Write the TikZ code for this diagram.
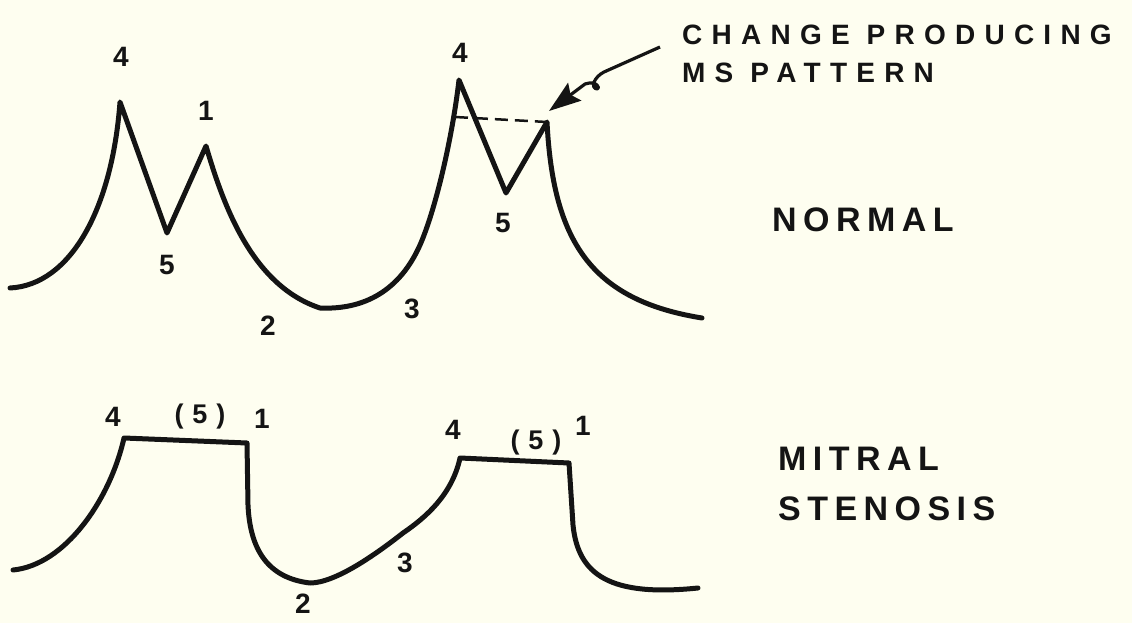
\documentclass[tikz,border=0pt]{standalone}
\usepackage{fontspec}
\usetikzlibrary{arrows.meta,positioning}
\newfontfamily\digitfont{Liberation Sans Bold}
\newfontfamily\capfont[LetterSpace=33]{Liberation Sans Bold}
\newfontfamily\sidefont[LetterSpace=19]{Liberation Sans Bold}
\definecolor{paper}{RGB}{254,254,240}
\definecolor{ink}{RGB}{20,20,20}
\tikzset{
  trace/.style={
    ink,
    line width=5pt,
    line cap=round,
    line join=round
  },
  lbl/.style={
    inner sep=0pt,
    ink,
    font=\digitfont\fontsize{28}{30}\selectfont
  },
  lblpar/.style={
    inner sep=0pt,
    ink,
    font=\capfont\fontsize{27}{30}\selectfont
  },
  note/.style={
    inner sep=0pt,
    anchor=north west,
    align=left,
    ink,
    font=\capfont\fontsize{28}{38}\selectfont
  },
  side/.style={
    inner sep=0pt,
    align=left,
    ink,
    font=\sidefont\fontsize{34}{50}\selectfont
  },
  dashline/.style={
    ink,
    line width=2.5pt,
    dash pattern=on 13pt off 7pt
  },
  pointer/.style={
    -{Stealth[length=32pt,width=22pt,inset=5pt]},
    ink,
    line width=3.2pt,
    line join=round
  }
}

\begin{document}
\begin{tikzpicture}[x=1pt,y=-1pt]
\fill[paper] (0,0) rectangle (1132,623);
\useasboundingbox (0,0) rectangle (1132,623);

\coordinate (p4a) at (120,102);
\coordinate (p5a) at (167,233);
\coordinate (p1a) at (206,146);
\coordinate (p4b) at (459,80);
\coordinate (p5b) at (506,193);
\coordinate (p1b) at (547,122);
\coordinate (dash0) at (455,117);
\coordinate (tail) at (660,47);
\coordinate (tip) at (549,111);

\draw[trace] (10,288) .. controls (70,285) and (112,210) .. (p4a) -- (p5a) -- (p1a)
  .. controls (222,200) and (250,285) .. (320,308)
  .. controls (365,310) and (400,290) .. (420,245)
  .. controls (435,211) and (452,140) .. (p4b) -- (p5b) -- (p1b)
  .. controls (553,240) and (590,300) .. (702,318);
\draw[dashline] (dash0) -- (p1b);
\draw[pointer] (tail) -- (604,72) .. controls (594,77) and (590,88) .. (597,89)
  .. controls (601,89) and (597,80) .. (585,84) -- (tip);

\draw[trace] (13,570) .. controls (65,565) and (110,500) .. (124,438) -- (247,443)
  -- (248,505) .. controls (250,550) and (268,578) .. (310,583)
  .. controls (335,583) and (375,555) .. (403,533)
  .. controls (425,518) and (452,495) .. (460,458) -- (569,463)
  -- (573,525) .. controls (578,575) and (610,597) .. (698,588);

\node[lbl] (lbl4a) at (121,57) {4};
\node[lbl] (lbl1a) at (206,111) {1};
\node[lbl] (lbl5a) at (167,265) {5};
\node[lbl] (lbl2a) at (268,326) {2};
\node[lbl] (lbl3a) at (412,309) {3};
\node[lbl] (lbl4b) at (460,53) {4};
\node[lbl] (lbl5b) at (503,223) {5};

\node[lbl] (lbl4c) at (113,417) {4};
\node[lblpar] (lbl5c) at (200,417) {(5)};
\node[lbl] (lbl1c) at (262,419) {1};
\node[lbl] (lbl2c) at (303,604) {2};
\node[lbl] (lbl3c) at (405,563) {3};
\node[lbl] (lbl4d) at (453,430) {4};
\node[lblpar] (lbl5d) at (536,443) {(5)};
\node[lbl] (lbl1d) at (583,426) {1};

\node[note] (change) at (682,25) {CHANGE PRODUCING\\MS PATTERN};
\node[side,anchor=west] (normal) at (772,220) {NORMAL};
\node[side,anchor=north west] (mitral) at (778,447) {MITRAL\\STENOSIS};
\end{tikzpicture}
\end{document}
